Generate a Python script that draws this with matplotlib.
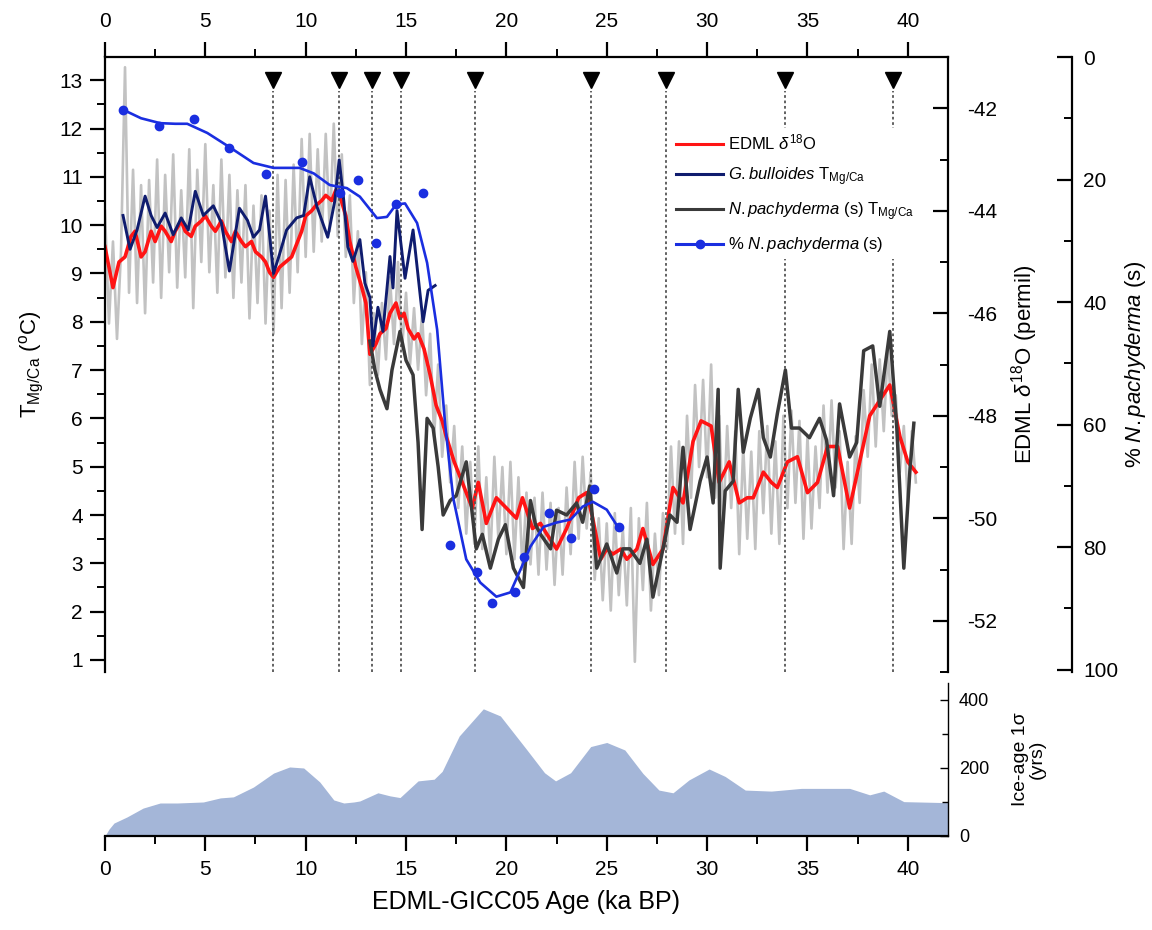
# EDML d18O vs. Mg/Ca temperatures, % N.pachyderma and ice-age uncertainty

import numpy as np
import matplotlib.pyplot as plt
from matplotlib.lines import Line2D
from matplotlib.ticker import MultipleLocator

plt.rcParams['font.family'] = ['Liberation Sans', 'DejaVu Sans']
plt.rcParams['mathtext.fontset'] = 'custom'
plt.rcParams['mathtext.rm'] = 'Liberation Sans'
plt.rcParams['mathtext.it'] = 'Liberation Sans:italic'
plt.rcParams['mathtext.bf'] = 'Liberation Sans:bold'
plt.rcParams['axes.unicode_minus'] = False

# --- data ---
# raw EDML d18O (permil), one value every 0.2 ka from 0 ka
gray_d = [
    -44.0, -46.2, -44.6, -46.5, -44.8, -41.2, -45.6, -43.2, -45.8, -43.5,
    -46.0, -43.4, -45.4, -43.0, -45.7, -43.3, -45.2, -42.9, -45.5, -43.6,
    -45.3, -42.8, -45.9, -43.2, -45.0, -42.7, -45.2, -43.5, -45.6, -43.0,
    -45.3, -43.3, -45.7, -43.6, -45.4, -43.5, -46.1, -43.9, -45.8, -43.7,
    -46.2, -44.0, -46.4, -43.3, -45.9, -43.4, -45.6, -43.1, -45.2, -42.6,
    -44.9, -42.5, -44.8, -42.8, -44.6, -42.5, -44.4, -42.3, -44.5, -42.9,
    -44.9, -43.7, -45.8, -44.4, -46.6, -45.2, -47.4, -46.0, -47.2, -45.8,
    -46.9, -45.3, -46.6, -45.0, -46.7, -45.6, -47.0, -45.9, -47.1, -46.0,
    -47.6, -46.4, -48.4, -47.0, -48.8, -47.8, -49.3, -48.2, -49.8, -48.6,
    -50.3, -48.9, -50.5, -48.6, -50.6, -49.2, -50.8, -48.8, -50.4, -49.0,
    -50.7, -48.9, -50.8, -49.2, -51.0, -49.5, -50.9, -49.6, -51.1, -49.5,
    -51.0, -49.7, -51.3, -49.8, -51.1, -49.4, -50.7, -48.9, -50.4, -48.8,
    -50.2, -49.1, -51.2, -50.0, -51.6, -50.1, -51.8, -49.9, -51.5, -50.2,
    -51.7, -49.8, -52.8, -50.0, -51.4, -49.7, -51.8, -50.3, -51.5, -49.9,
    -50.6, -48.6, -50.3, -48.5, -50.5, -48.0, -49.6, -47.4, -49.0, -47.3,
    -49.2, -47.0, -49.6, -48.0, -50.1, -48.2, -49.8, -48.3, -50.7, -48.6,
    -50.4, -48.7, -50.6, -48.3, -49.9, -48.2, -50.3, -48.5, -50.5, -48.0,
    -49.8, -47.9, -49.7, -48.1, -50.4, -48.4, -50.2, -48.6, -49.8, -47.8,
    -49.5, -47.7, -49.4, -48.3, -50.6, -48.9, -50.5, -48.4, -49.7, -47.5,
    -48.8, -47.0, -48.6, -46.9, -48.3, -46.7, -48.0, -47.6, -49.1, -48.2,
    -49.7, -48.3, -49.3,
]
gray_age = np.round(np.arange(len(gray_d)) * 0.2, 1)

# smoothed EDML d18O
red_age = [0, 0.4, 0.7, 1.0, 1.3, 1.5, 1.8, 2.0, 2.3, 2.5, 2.8, 3.0, 3.3, 3.5,
           3.8, 4.0, 4.3, 4.5, 4.8, 5.0, 5.3, 5.5, 5.8, 6.0, 6.3, 6.5, 6.8, 7.0,
           7.3, 7.5, 7.8, 8.0, 8.2, 8.4, 8.7, 9.0, 9.3, 9.5, 9.8, 10.0, 10.3,
           10.5, 10.8, 11.0, 11.3, 11.5, 11.7, 12.0, 12.2, 12.5, 12.8, 13.0,
           13.2, 13.5, 13.7, 14.0, 14.2, 14.5, 14.7, 14.9, 15.1, 15.4, 15.6,
           15.9, 16.2, 16.5, 16.8, 17.0, 17.4, 17.9, 18.3, 18.6, 19.0, 19.5,
           20.0, 20.5, 20.8, 21.3, 21.7, 22.0, 22.5, 23.0, 23.6, 24.0, 24.3,
           24.7, 25.0, 25.3, 25.7, 26.0, 26.5, 26.8, 27.3, 27.8, 28.0, 28.3,
           28.8, 29.3, 29.7, 30.2, 30.6, 31.1, 31.6, 32.0, 32.3, 32.8, 33.2,
           33.5, 34.0, 34.5, 35.0, 35.5, 36.0, 36.5, 37.1, 37.6, 38.1, 38.6,
           39.1, 39.6, 40.0, 40.4]
red_d = [-44.7, -45.5, -45.0, -44.9, -44.5, -44.4, -44.9, -44.8, -44.4, -44.6,
         -44.3, -44.4, -44.6, -44.4, -44.2, -44.4, -44.5, -44.3, -44.2, -44.1,
         -44.3, -44.4, -44.2, -44.4, -44.6, -44.4, -44.6, -44.7, -44.6, -44.8,
         -44.9, -45.0, -45.2, -45.3, -45.1, -45.0, -44.9, -44.7, -44.4, -44.1,
         -44.0, -43.9, -43.8, -43.7, -43.8, -43.6, -43.7, -44.1, -44.6, -45.1,
         -45.5, -45.8, -46.8, -46.6, -46.4, -46.3, -46.0, -45.8, -46.1, -46.0,
         -46.3, -46.5, -46.4, -46.7, -47.2, -47.8, -48.1, -48.4, -48.9, -49.4,
         -49.8, -49.3, -50.1, -49.6, -49.8, -50.0, -49.6, -50.2, -50.1, -50.3,
         -50.6, -50.2, -49.6, -49.5, -50.0, -50.8, -50.6, -50.7, -50.6, -50.8,
         -50.6, -50.2, -50.9, -50.6, -50.1, -49.4, -49.7, -48.5, -48.1, -48.2,
         -49.3, -48.9, -49.7, -49.6, -49.6, -49.1, -49.3, -49.4, -48.9, -48.8,
         -49.5, -49.3, -48.6, -48.6, -49.8, -48.9, -48.0, -47.7, -47.4, -48.4,
         -48.9, -49.1]

# G. bulloides T(Mg/Ca)
bul_age = [0.9, 1.25, 1.6, 2.0, 2.3, 2.6, 3.0, 3.4, 3.8, 4.15, 4.5, 4.9, 5.4,
           5.8, 6.2, 6.7, 7.1, 7.4, 7.7, 8.0, 8.4, 8.7, 9.05, 9.55, 9.9, 10.2,
           10.55, 11.1, 11.45, 11.67, 11.9, 12.1, 12.35, 12.7, 12.95, 13.2,
           13.35, 13.6, 13.85, 14.2, 14.35, 14.55, 14.95, 15.35, 15.85, 16.1,
           16.45]
bul_t = [10.2, 9.5, 9.9, 10.6, 10.2, 9.95, 10.25, 9.8, 10.15, 9.9, 10.7, 10.2,
         10.4, 10.05, 9.05, 10.35, 10.1, 9.75, 9.9, 10.6, 9.0, 9.4, 9.9, 10.15,
         10.2, 11.0, 10.4, 9.75, 10.5, 11.35, 10.5, 9.55, 9.25, 9.7, 8.8, 8.5,
         7.5, 8.3, 7.8, 9.35, 8.7, 10.3, 8.9, 9.9, 8.0, 8.65, 8.75]

# N. pachyderma (s) T(Mg/Ca)
pac_age = [13.2, 13.45, 13.7, 14.05, 14.3, 14.7, 15.0, 15.35, 15.6, 15.8, 16.05,
           16.35, 16.6, 16.85, 17.2, 17.5, 18.0, 18.25, 18.5, 18.8, 19.2, 19.6,
           19.95, 20.35, 20.85, 21.2, 21.45, 21.7, 22.2, 22.5, 23.0, 23.5, 23.8,
           24.15, 24.5, 25.0, 25.5, 25.8, 26.15, 26.65, 27.0, 27.3, 27.8, 28.15,
           28.5, 28.8, 29.15, 29.65, 30.0, 30.3, 30.55, 30.65, 30.9, 31.3,
           31.55, 31.8, 32.15, 32.55, 32.8, 33.15, 33.5, 33.9, 34.2, 34.6,
           35.1, 35.6, 35.95, 36.3, 36.6, 37.1, 37.45, 37.8, 38.25, 38.6, 39.1,
           39.45, 39.8, 40.1, 40.3]
pac_t = [7.6, 7.0, 6.6, 6.2, 7.0, 7.8, 7.2, 6.9, 5.5, 3.7, 6.0, 5.8, 5.0, 4.0,
         4.3, 4.4, 5.1, 4.2, 3.3, 3.6, 2.9, 3.5, 3.8, 2.9, 2.5, 4.3, 3.8, 3.6,
         3.3, 4.1, 4.0, 4.25, 3.85, 4.6, 2.9, 3.4, 2.8, 3.3, 3.3, 3.0, 3.5, 2.3,
         3.3, 4.0, 3.85, 5.4, 3.7, 4.7, 5.2, 4.25, 6.6, 2.9, 4.5, 4.7, 6.6, 5.3,
         6.0, 6.6, 5.6, 5.2, 6.1, 7.0, 5.8, 5.8, 5.6, 6.0, 5.55, 4.4, 6.3, 5.2,
         5.5, 7.4, 7.5, 6.25, 7.8, 5.8, 2.9, 4.9, 5.9]

# % N. pachyderma (s): samples and smoothed curve
pct_age = [0.9, 2.7, 4.45, 6.2, 8.0, 9.8, 11.7, 12.6, 13.5, 14.5, 15.85, 17.2,
           18.55, 19.3, 20.45, 20.9, 22.1, 23.2, 24.35, 25.6]
pct_val = [8.6, 11.2, 10.2, 14.8, 19.1, 17.2, 22.2, 20.0, 30.3, 24.0, 22.2,
           79.6, 84.0, 89.2, 87.4, 81.6, 74.4, 78.5, 70.5, 76.7]
pct_s_age = [0.9, 1.8, 2.75, 3.5, 4.1, 5.1, 6.2, 7.4, 8.4, 9.7, 10.4, 11.2,
             12.05, 12.7, 13.55, 14.05, 14.5, 14.95, 15.55, 16.05, 16.55,
             16.95, 17.35, 18.0, 18.7, 19.5, 20.2, 20.7, 21.2, 21.85, 22.5,
             23.2, 23.8, 24.3, 25.0, 25.55]
pct_s_val = [8.6, 10.0, 10.8, 10.9, 10.9, 12.4, 14.7, 17.3, 18.1, 18.1, 19.0,
             20.9, 21.4, 22.8, 26.3, 26.1, 24.1, 23.9, 27.1, 33.6, 44.5, 60.0,
             72.0, 82.0, 85.8, 88.1, 87.4, 83.7, 79.9, 76.7, 76.0, 75.5, 73.4,
             72.6, 73.9, 76.7]

# tie points (ka)
tie_age = [8.36, 11.67, 13.28, 14.73, 18.44, 24.2, 27.93, 33.88, 39.28]

# ice-age 1 sigma (yrs)
ia_age = [0, 0.2, 0.45, 1.1, 1.9, 2.75, 3.6, 4.9, 5.75, 6.4, 7.4, 8.4, 9.2, 9.9,
          10.7, 11.4, 11.9, 12.4, 12.7, 13.6, 14.2, 14.7, 15.6, 16.4, 16.8,
          17.65, 18.85, 19.7, 21.0, 21.9, 22.45, 23.2, 24.2, 25.0, 25.9, 26.8,
          27.6, 28.3, 29.1, 30.1, 30.9, 31.9, 33.2, 34.7, 35.8, 37.1, 38.1,
          38.8, 39.8, 42.0]
ia_val = [0, 20, 38, 56, 82, 97, 97, 100, 112, 115, 144, 185, 203, 200, 159,
          106, 97, 100, 103, 127, 118, 113, 162, 167, 190, 294, 374, 353, 255,
          186, 162, 186, 263, 275, 253, 184, 135, 127, 165, 197, 175, 135, 132,
          140, 140, 140, 121, 132, 101, 98]

RED = '#ff1414'
NAVY = '#0f1c6e'
DGRAY = '#3a3a3a'
BLUE = '#1a2ee0'
LGRAY = '#c2c2c2'
FILL = '#a4b6d8'

fig = plt.figure(figsize=(11.52, 9.3), dpi=100)

# --- main panel ---
ax = fig.add_axes([0.0911, 0.2774, 0.7318, 0.6613])
ax_d = ax.twinx()
ax_p = ax.twinx()
ax_d.set_zorder(1)
ax.set_zorder(2)
ax_p.set_zorder(3)
ax.patch.set_visible(False)

ax_d.plot(gray_age, gray_d, color=LGRAY, lw=1.9)
ax_d.plot(red_age, red_d, color=RED, lw=2.6)
ax.plot(pac_age, pac_t, color=DGRAY, lw=2.5)
ax.plot(bul_age, bul_t, color=NAVY, lw=2.1)
ax_p.plot(pct_s_age, pct_s_val, color=BLUE, lw=1.9)
ax_p.plot(pct_age, pct_val, 'o', color=BLUE, ms=6)

# tie points: triangles + dotted lines
xt = ax.get_xaxis_transform()
for a in tie_age:
    ax.axvline(a, ymin=0, ymax=0.945, color='#555555', ls=(0, (1.5, 1.5)), lw=1.3, zorder=0)
ax.plot(tie_age, [0.962] * len(tie_age), 'v', color='black', ms=12, transform=xt,
        clip_on=False)

ax.set_xlim(0, 42)
ax.set_ylim(0.75, 13.48)
ax_d.set_ylim(-53, -41)
ax_p.set_ylim(100.4, 0)

for s in ['bottom', 'right']:
    ax.spines[s].set_visible(False)
for s in ['left', 'top', 'bottom']:
    ax_d.spines[s].set_visible(False)
    ax_p.spines[s].set_visible(False)
ax_p.spines['right'].set_position(('axes', 1.147))
for a_ in (ax, ax_d, ax_p):
    for s in a_.spines.values():
        s.set_linewidth(1.6)

ax.xaxis.tick_top()
ax.xaxis.set_major_locator(MultipleLocator(5))
ax.xaxis.set_minor_locator(MultipleLocator(2.5))
ax.yaxis.set_major_locator(MultipleLocator(1))
ax.yaxis.set_minor_locator(MultipleLocator(0.5))
ax.tick_params(axis='both', which='major', direction='out', length=11, width=1.6,
               labelsize=15, pad=5)
ax.tick_params(axis='both', which='minor', direction='out', length=6, width=1.4)
ax.tick_params(axis='x', which='both', top=True, bottom=False, labeltop=True,
               labelbottom=False)
ax.tick_params(axis='x', which='major', pad=8)

ax_d.yaxis.set_major_locator(MultipleLocator(2))
ax_d.yaxis.set_minor_locator(MultipleLocator(1))
ax_d.tick_params(axis='y', which='major', direction='in', length=11, width=1.6,
                 labelsize=15, pad=14)
ax_d.tick_params(axis='y', which='minor', direction='in', length=6, width=1.4)

ax_p.yaxis.set_major_locator(MultipleLocator(20))
ax_p.yaxis.set_minor_locator(MultipleLocator(10))
ax_p.tick_params(axis='y', which='major', direction='in', length=11, width=1.6,
                 labelsize=15, pad=8)
ax_p.tick_params(axis='y', which='minor', direction='in', length=6, width=1.4)

ax.set_ylabel(r'T$_{\mathrm{Mg/Ca}}$ ($^{\mathrm{o}}$C)', fontsize=16)
ax.yaxis.set_label_coords(-0.07, 0.5)
ax_d.set_ylabel(r'EDML $\delta^{18}$O (permil)', fontsize=16)
ax_d.yaxis.set_label_coords(1.073, 0.5)
ax_p.set_ylabel(r'% $\it{N.pachyderma}$ (s)', fontsize=16)
ax_p.yaxis.set_label_coords(1.208, 0.5)

handles = [
    Line2D([], [], color=RED, lw=2.2),
    Line2D([], [], color=NAVY, lw=2.2),
    Line2D([], [], color=DGRAY, lw=2.2),
    Line2D([], [], color=BLUE, lw=2.2, marker='o', ms=6),
]
labels = [
    r'EDML $\delta^{18}$O',
    r'$\it{G.bulloides}$ T$_{\mathrm{Mg/Ca}}$',
    r'$\it{N.pachyderma}$ (s) T$_{\mathrm{Mg/Ca}}$',
    r'% $\it{N.pachyderma}$ (s)',
]
ax_p.legend(handles, labels, loc='upper left', bbox_to_anchor=(0.672, 0.885),
            frameon=True, facecolor='white', edgecolor='none', framealpha=1,
            fontsize=12, handlelength=2.8, handletextpad=0.3, labelspacing=0.75,
            borderpad=0.3, borderaxespad=0)

# --- ice-age uncertainty panel ---
ax_b = fig.add_axes([0.0911, 0.1011, 0.7318, 0.1645])
ax_b.fill_between(ia_age, ia_val, 0, color=FILL, lw=0)
ax_b.set_xlim(0, 42)
ax_b.set_ylim(0, 450)
for s in ['left', 'top']:
    ax_b.spines[s].set_visible(False)
ax_b.spines['bottom'].set_linewidth(1.6)
ax_b.spines['right'].set_linewidth(1.0)
ax_b.yaxis.tick_right()
ax_b.yaxis.set_label_position('right')
ax_b.xaxis.set_major_locator(MultipleLocator(5))
ax_b.xaxis.set_minor_locator(MultipleLocator(2.5))
ax_b.yaxis.set_major_locator(MultipleLocator(200))
ax_b.yaxis.set_minor_locator(MultipleLocator(100))
ax_b.tick_params(axis='x', which='major', direction='out', length=11, width=1.6,
                 labelsize=15, pad=6)
ax_b.tick_params(axis='x', which='minor', direction='out', length=6, width=1.4)
ax_b.tick_params(axis='y', which='major', direction='in', length=6, width=1.0,
                 labelsize=13, pad=8)
ax_b.tick_params(axis='y', which='minor', direction='in', length=4, width=1.0)
ax_b.set_ylabel('Ice-age 1\u03c3\n(yrs)', fontsize=14, linespacing=1.0)
ax_b.yaxis.set_label_coords(1.076, 0.5)
ax_b.set_xlabel('EDML-GICC05 Age (ka BP)', fontsize=18, labelpad=8)

fig.savefig('out.png', dpi=100)
